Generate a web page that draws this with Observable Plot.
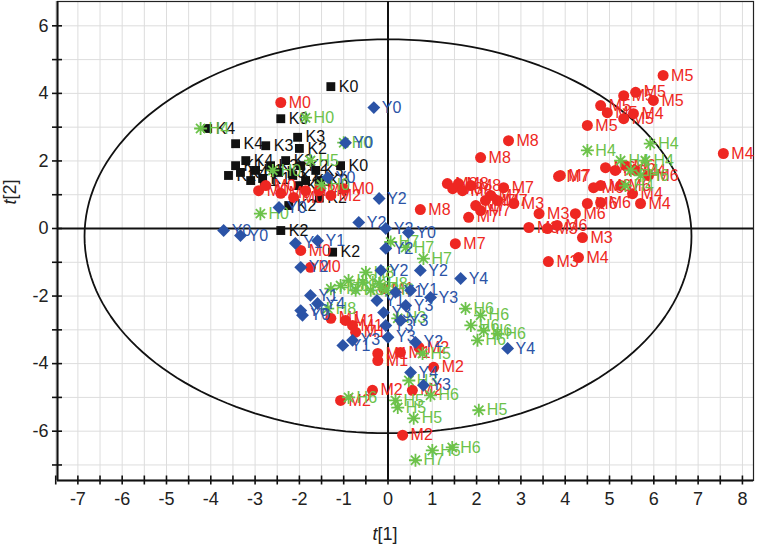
<!DOCTYPE html>
<html><head><meta charset="utf-8">
<script src="https://cdn.jsdelivr.net/npm/d3@7"></script>
<script src="https://cdn.jsdelivr.net/npm/@observablehq/plot@0.6"></script>
<style>body{margin:0;background:#fff;} #chart{width:757px;height:546px;overflow:hidden;}</style>
</head><body><div id="chart"></div>
<script>
// Scores [t1, t2, label] per group
const kPoints = [
  [-1.29,4.20,"K0"],[-2.42,3.25,"K0"],[-4.07,2.96,"K4"],[-3.44,2.51,"K4"],[-2.04,2.70,"K3"],
  [-2.76,2.45,"K3"],[-2.00,2.37,"K2"],[-1.07,1.86,"K0"],[-3.60,1.57,"K1"],[-3.44,1.86,"K1"],
  [-3.21,2.01,"K4"],[-2.99,1.72,"K1"],[-2.83,1.48,"K1"],[-2.65,1.86,"K3"],[-2.47,1.66,"K3"],
  [-2.31,2.01,"K3"],[-2.15,1.57,"K2"],[-1.97,1.86,"K2"],[-1.86,1.42,"K1"],[-1.63,1.72,"K3"],
  [-1.52,1.42,"K3"],[-2.02,1.27,"K1"],[-3.10,1.42,"K1"],[-3.33,1.66,"K4"],[-2.24,0.68,"K2"],
  [-1.55,0.90,"K2"],[-2.42,-0.06,"K2"],[-1.25,-0.70,"K2"]
];
const mPoints = [
  [-2.42,3.73,"M0"],[-1.00,1.18,"M0"],[-2.92,1.12,"M0"],[-2.76,1.27,"M0"],[-2.42,1.04,"M0"],
  [-2.13,0.92,"M0"],[-1.86,1.12,"M2"],[-1.56,1.12,"M0"],[-1.29,0.98,"M2"],[-1.97,-0.65,"M0"],
  [-1.75,-1.15,"M0"],
  [6.21,4.53,"M5"],[5.59,4.03,"M5"],[5.32,3.93,"M5"],[5.99,3.79,"M5"],[4.80,3.64,"M5"],
  [4.95,3.43,"M5"],[5.54,3.40,"M4"],[5.32,3.25,"M5"],[4.50,3.05,"M5"],[2.72,2.60,"M8"],
  [2.09,2.10,"M8"],[7.57,2.22,"M4"],[3.85,1.54,"M7"],[4.91,1.80,"M6"],[5.13,1.72,"M6"],
  [5.36,1.86,"M6"],[5.59,1.72,"M4"],[5.88,1.57,"M6"],[5.25,1.27,"M6"],[5.52,1.03,"M4"],
  [5.70,0.74,"M4"],[4.80,1.27,"M6"],[4.64,1.21,"M6"],[4.50,0.74,"M6"],[4.80,0.77,"M6"],
  [4.23,0.44,"M6"],[3.89,1.57,"M7"],[2.61,1.21,"M7"],[1.34,1.33,"M8"],[1.46,1.18,"M8"],
  [1.59,1.33,"M8"],[1.68,1.12,"M8"],[1.87,1.27,"M8"],[2.32,0.98,"M7"],[2.47,0.83,"M7"],
  [2.20,0.83,"M7"],[2.84,0.74,"M3"],[1.98,0.68,"M7"],[2.09,0.53,"M7"],[0.73,0.56,"M8"],
  [1.82,0.33,"M7"],[3.41,0.44,"M3"],[3.18,0.03,"M3"],[3.60,0.00,"M3"],[3.82,0.09,"M6"],
  [4.39,-0.27,"M3"],[4.30,-0.86,"M4"],[3.62,-0.98,"M3"],[1.52,-0.45,"M7"],
  [-0.10,-1.78,"M1"],[-1.29,-2.66,"M1"],[-0.80,-2.87,"M1"],[-0.73,-3.07,"M1"],[-0.96,-2.72,"M1"],
  [-0.23,-3.70,"M1"],[-0.23,-3.91,"M1"],[0.28,-3.67,"M1"],[0.70,-3.52,"M2"],[1.03,-4.11,"M2"],
  [-0.35,-4.79,"M2"],[-1.07,-5.09,"M2"],[0.55,-4.79,"M2"],[0.33,-6.12,"M2"]
];
const hPoints = [
  [-4.23,2.96,"H4"],[-1.86,3.28,"H0"],[-1.00,2.54,"H0"],[-1.75,2.01,"H5"],[-2.60,1.72,"H0"],
  [-1.50,1.30,"H0"],[-2.88,0.44,"H0"],
  [4.50,2.31,"H4"],[5.92,2.51,"H4"],[5.25,2.01,"H4"],[5.48,1.72,"H4"],[5.70,1.57,"H6"],
  [5.36,1.27,"H4"],[5.81,2.01,"H4"],
  [0.06,-0.40,"H7"],[0.40,-0.56,"H7"],[0.80,-0.89,"H7"],
  [-1.29,-1.78,"H8"],[-1.07,-1.69,"H8"],[-0.89,-1.54,"H8"],[-0.73,-1.83,"H8"],[-0.57,-1.60,"H8"],
  [-0.39,-1.83,"H8"],[-0.20,-1.63,"H8"],[-0.50,-1.30,"H8"],[-0.05,-1.83,"H8"],[-1.36,-2.37,"H8"],
  [0.22,-2.66,"H3"],
  [1.75,-2.37,"H6"],[2.09,-2.57,"H6"],[2.16,-3.02,"H6"],[2.47,-3.11,"H6"],[2.02,-3.31,"H6"],[1.87,-2.87,"H6"],
  [0.78,-3.70,"H5"],[0.47,-4.50,"H3"],[0.96,-4.94,"H6"],[0.22,-5.30,"H5"],[0.17,-5.09,"H5"],
  [-0.89,-5.00,"H6"],[2.05,-5.38,"H5"],[0.58,-5.62,"H5"],[0.62,-6.86,"H7"],[1.00,-6.57,"H5"],[1.45,-6.48,"H6"]
];
const yPoints = [
  [-0.32,3.58,"Y0"],[-0.96,2.54,"Y0"],[-1.36,1.51,"Y0"],[-0.20,0.89,"Y2"],[-0.66,0.18,"Y2"],
  [-3.71,-0.06,"Y0"],[-3.33,-0.21,"Y0"],[-2.46,0.62,"Y0"],[-2.09,-0.44,"Y1"],[-1.59,-0.36,"Y1"],
  [-1.97,-1.15,"Y2"],[-1.75,-1.98,"Y1"],[-1.59,-2.22,"Y4"],[-1.93,-2.57,"Y0"],[-1.97,-2.43,"Y6"],
  [-1.02,-3.46,"Y1"],[-0.80,-3.31,"Y3"],[0.62,-3.37,"Y2"],[0.00,-3.22,"Y3"],[0.51,-4.26,"Y4"],
  [0.80,-4.64,"Y3"],[2.70,-3.55,"Y4"],[1.64,-1.48,"Y4"],[0.73,-1.24,"Y2"],[0.46,-0.12,"Y0"],
  [-0.05,0.00,"Y2"],[-0.05,-0.59,"Y2"],[0.96,-2.04,"Y3"],[-0.25,-2.13,"Y1"],[-0.10,-2.49,"Y3"],
  [0.17,-1.89,"Y1"],[0.40,-2.28,"Y3"],[0.51,-1.83,"Y1"],[-0.05,-2.87,"Y3"],[0.29,-2.72,"Y3"],
  [-0.16,-1.24,"Y2"]
];
const xTickLabels = [-7,-6,-5,-4,-3,-2,-1,0,1,2,3,4,5,6,7,8];
const xTickAll = [-7.5,-7,-6.5,-6,-5.5,-5,-4.5,-4,-3.5,-3,-2.5,-2,-1.5,-1,-0.5,0,0.5,1,1.5,2,2.5,3,3.5,4,4.5,5,5.5,6,6.5,7,7.5,8];
const yTickLabels = [-6,-4,-2,0,2,4,6];
const yTickAll = [-7,-6,-5,-4,-3,-2,-1,0,1,2,3,4,5,6];
const ellipseSpec = {cx: 0, cy: -0.23, rx: 6.85, ry: 5.83};

const C = {K: "#111111", M: "#ee2722", H: "#6cc24a", Y: "#2b53a6"};
const toObj = a => a.map(([x, y, label]) => ({x, y, label}));
const K = toObj(kPoints), M = toObj(mPoints), H = toObj(hPoints), Y = toObj(yPoints);
const ellipse = d3.range(0, 361, 2).map(a => ({
  x: ellipseSpec.cx + ellipseSpec.rx * Math.cos(a * Math.PI / 180),
  y: ellipseSpec.cy + ellipseSpec.ry * Math.sin(a * Math.PI / 180)
}));
const asterisk8 = {draw(ctx, size) {
  const r = Math.sqrt(size / Math.PI);
  for (let i = 0; i < 4; i++) {
    const a = i * Math.PI / 4, c = Math.cos(a) * r, s = Math.sin(a) * r;
    ctx.moveTo(-c, -s); ctx.lineTo(c, s);
  }
}};
const lab = (data, fill) => Plot.text(data, {x: "x", y: "y", text: "label", dx: 8, textAnchor: "start", fill, fontSize: 16});

const chart = Plot.plot({
  width: 757, height: 546,
  marginLeft: 57, marginRight: 4, marginTop: 1, marginBottom: 66,
  style: {fontFamily: "'Liberation Sans', Arial, sans-serif", background: "#fff"},
  x: {domain: [-7.46, 8.25], axis: null},
  y: {domain: [-7.46, 6.72], axis: null},
  marks: [
    Plot.ruleX(xTickAll, {stroke: "#dddddd", strokeWidth: 1}),
    Plot.ruleY(yTickAll, {stroke: "#dddddd", strokeWidth: 1}),
    Plot.frame({stroke: "#222", strokeWidth: 1.2}),
    Plot.ruleX([0], {stroke: "#111", strokeWidth: 2}),
    Plot.ruleY([0], {stroke: "#111", strokeWidth: 2}),
    Plot.line(ellipse, {x: "x", y: "y", stroke: "#111", strokeWidth: 1.8}),
    Plot.axisX({ticks: xTickAll, tickSize: 9, dy: -4.5, tickFormat: () => "", label: null, stroke: "#111", strokeWidth: 1.6}),
    Plot.axisX({ticks: xTickLabels, tickSize: 0, tickPadding: 12, tickFormat: d => String(d), label: null, fontSize: 18, fill: "#222"}),
    Plot.axisY({ticks: yTickAll, tickSize: 10, dx: 5, tickFormat: () => "", label: null, stroke: "#111", strokeWidth: 1.6}),
    Plot.axisY({ticks: yTickLabels, tickSize: 0, tickPadding: 9, tickFormat: d => String(d), label: null, fontSize: 18, fill: "#222"}),
    Plot.ruleX([-7.46], {stroke: "#111", strokeWidth: 2}),
    Plot.ruleY([-7.46], {stroke: "#111", strokeWidth: 2}),
    Plot.dot(K, {x: "x", y: "y", symbol: "square", r: 5, fill: C.K}),
    lab(K, C.K),
    Plot.dot(M, {x: "x", y: "y", symbol: "circle", r: 5.5, fill: C.M}),
    lab(M, C.M),
    Plot.dot(H, {x: "x", y: "y", symbol: asterisk8, r: 6.5, fill: "none", stroke: C.H, strokeWidth: 1.8}),
    lab(H, C.H),
    Plot.dot(Y, {x: "x", y: "y", symbol: "diamond2", r: 5.8, fill: C.Y}),
    lab(Y, C.Y)
  ]
});
const svg = d3.select(chart);
const t1 = svg.append("text").attr("x", 385).attr("y", 540).attr("text-anchor", "middle")
  .attr("font-size", 18).attr("fill", "#222");
t1.append("tspan").attr("font-style", "italic").text("t");
t1.append("tspan").text("[1]");
const t2 = svg.append("text").attr("transform", "translate(16,192) rotate(-90)").attr("text-anchor", "middle")
  .attr("font-size", 18).attr("fill", "#222");
t2.append("tspan").attr("font-style", "italic").text("t");
t2.append("tspan").text("[2]");
document.getElementById("chart").append(chart);
</script>
</body></html>
